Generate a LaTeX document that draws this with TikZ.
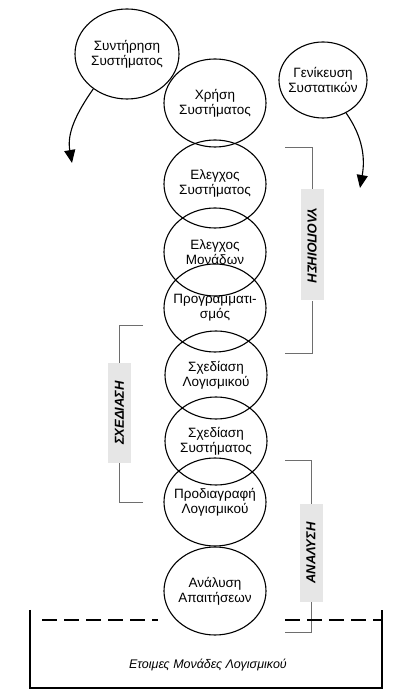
\documentclass[tikz,border=0pt]{standalone}
\usepackage{fontspec}
\setmainfont{Liberation Sans}
\usetikzlibrary{shapes.geometric,arrows.meta}
\definecolor{gkri}{RGB}{230,230,230}
\definecolor{grammi}{RGB}{110,110,110}
\tikzstyle{kyklos}=[draw,ellipse,line width=1.1pt,inner sep=-8pt,minimum width=102pt,minimum height=88pt,align=center,font=\fontsize{13.5}{15}\selectfont]
\tikzstyle{mikros}=[kyklos,minimum width=88pt,minimum height=76pt]
\tikzstyle{velos}=[line width=1.1pt,-{Triangle[length=13pt,width=11pt]}]
\tikzstyle{agkyli}=[draw=grammi,line width=0.7pt]
\tikzstyle{etiketa}=[fill=gkri,inner sep=0pt,minimum height=23pt,font=\fontsize{13}{14}\selectfont\bfseries\itshape]

\begin{document}
\begin{tikzpicture}[x=1pt,y=1pt]
    \useasboundingbox (0,0) rectangle (407,691);
    % fases
    \node [kyklos, minimum width=104pt, minimum height=90pt] (sunt) at (127, 637) {Συντήρηση\\Συστήματος};
    \node [mikros] (gen)   at (323, 611) {Γενίκευση\\Συστατικών};
    \node [kyklos] (xrisi) at (215, 588) {Χρήση\\Συστήματος};
    \node [kyklos] (elsys) at (215, 507) {Ελεγχος\\Συστήματος};
    \node [kyklos] (elmon) at (215, 439) {Ελεγχος\\Μονάδων};
    \node [kyklos] (prog)  at (215, 383) {Προγραμματι-\\σμός};
    \node [kyklos] (sxlog) at (216, 316) {Σχεδίαση\\Λογισμικού};
    \node [kyklos] (sxsys) at (216, 250) {Σχεδίαση\\Συστήματος};
    \node [kyklos] (prod)  at (215, 189) {Προδιαγραφή\\Λογισμικού};
    \node [kyklos] (anal)  at (215, 100) {Ανάλυση\\Απαιτήσεων};
    % velh
    \coordinate (akrA) at (72, 528);
    \coordinate (akrB) at (360, 503);
    \draw [velos] (sunt.226) to [out=235, in=100] (akrA);
    \draw [velos] (gen.-55) to [out=-55, in=80] (akrB);
    % agkyles
    \node [etiketa, rotate=-90, minimum width=111pt] (ylop) at (312, 446) {ΥΛΟΠΟΙΗΣΗ};
    \node [etiketa, rotate=90, minimum width=100pt] (sxed) at (119.5, 278) {ΣΧΕΔΙΑΣΗ};
    \node [etiketa, rotate=90, minimum width=98pt] (anly) at (311, 138) {ΑΝΑΛΥΣΗ};
    \coordinate (ylopT) at (285, 544);
    \coordinate (ylopB) at (285, 338);
    \coordinate (sxedT) at (143, 366);
    \coordinate (sxedB) at (143, 189);
    \coordinate (anlyT) at (285, 231);
    \coordinate (anlyB) at (285, 59);
    \draw [agkyli] (ylopT) -| (ylop);
    \draw [agkyli] (ylopB) -| (ylop);
    \draw [agkyli] (sxedT) -| (sxed);
    \draw [agkyli] (sxedB) -| (sxed);
    \draw [agkyli] (anlyT) -| (anly);
    \draw [agkyli] (anlyB) -| (anly);
    % etoimes monades
    \draw [line width=1.2pt] (30, 81) -- (30, 3) -- (382, 3) -- (382, 81);
    \draw [line width=1.2pt, dash pattern=on 15pt off 7pt] (42, 71) -- (158, 71);
    \draw [line width=1.2pt, dash pattern=on 15pt off 7pt] (285, 71) -- (382, 71);
    \node [font=\fontsize{12.5}{14}\selectfont\itshape] (etoim) at (208, 26) {Ετοιμες Μονάδες Λογισμικού};
\end{tikzpicture}
\end{document}
